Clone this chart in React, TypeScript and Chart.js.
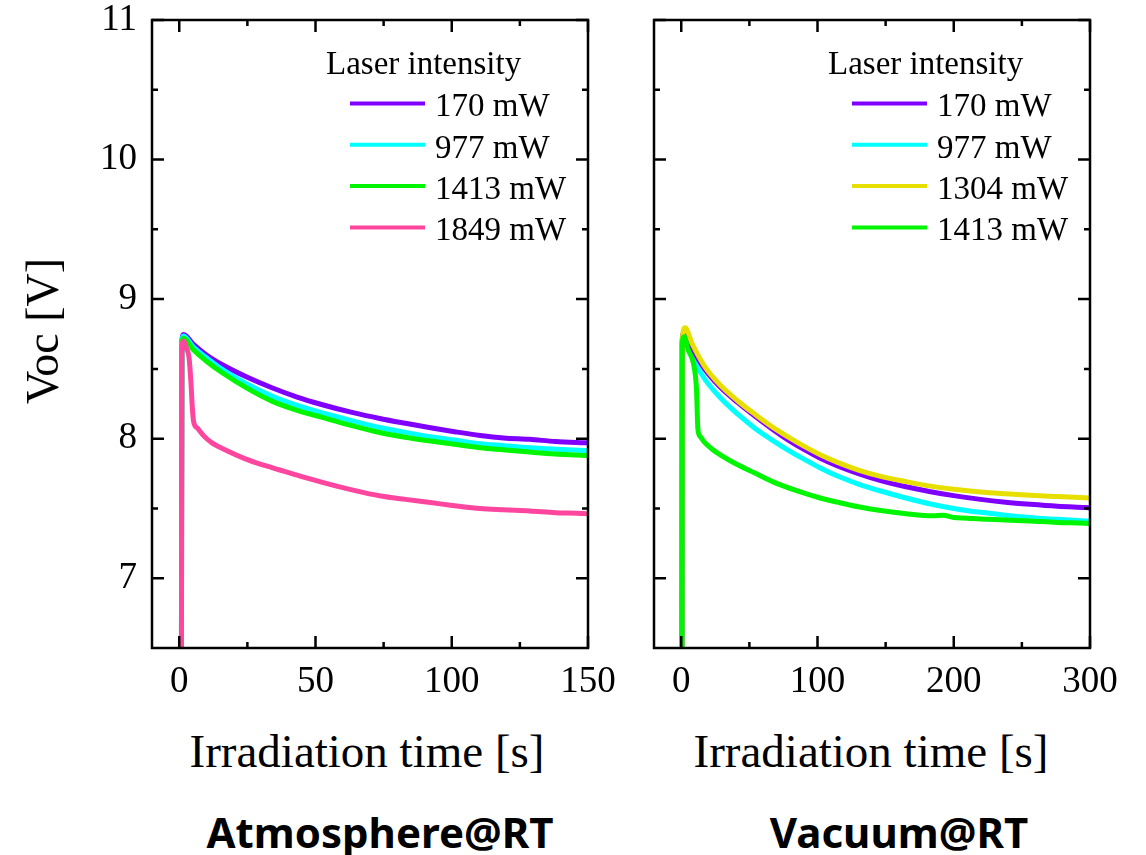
import React, { useEffect, useRef } from "react";
import { Chart, registerables } from "chart.js";

Chart.register(...registerables);

const SERIF = '"Liberation Serif", "Times New Roman", serif';

// ---------- tick values ----------
const yMajorTicks = [7, 8, 9, 10, 11];
const yMinorTicks = [7.5, 8.5, 9.5, 10.5];
const xMajorTicksLeft = [0, 50, 100, 150];
const xMinorTicksLeft = [25, 75, 125];
const xMajorTicksRight = [0, 100, 200, 300];
const xMinorTicksRight = [50, 150, 250];

// ---------- legend labels ----------
const legendTitle = "Laser intensity";
const labelsLeft = ["170 mW", "977 mW", "1413 mW", "1849 mW"];
const labelsRight = ["170 mW", "977 mW", "1304 mW", "1413 mW"];

const PURPLE = "#8000FF";
const CYAN = "#00FFFF";
const GREEN = "#00F500";
const PINK = "#FF469F";
const YELLOW = "#E6DF00";

// ---------- Atmosphere@RT data ----------
const tLeft = [0.8, 0.95, 1.6, 5, 10, 15.8, 25, 34, 43, 52.2, 63, 74, 83, 92.2, 101, 110.4, 119, 128.6, 138, 148.6, 150];
const vLeft170 = [6.3, 8.7, 8.746, 8.68, 8.6, 8.53, 8.44, 8.365, 8.3, 8.245, 8.19, 8.143, 8.11, 8.078, 8.05, 8.023, 8.005, 7.995, 7.98, 7.971, 7.97];
const vLeft977 = [6.3, 8.69, 8.735, 8.66, 8.58, 8.496, 8.39, 8.305, 8.24, 8.186, 8.13, 8.078, 8.045, 8.014, 7.99, 7.964, 7.95, 7.935, 7.925, 7.916, 7.915];
const vLeft1413 = [6.3, 8.68, 8.72, 8.64, 8.555, 8.472, 8.36, 8.269, 8.205, 8.154, 8.095, 8.042, 8.01, 7.983, 7.96, 7.935, 7.92, 7.904, 7.89, 7.88, 7.878];
const tLeft1849 = [0.8, 0.95, 1.6, 2.6, 3.6, 4.3, 4.8, 5.3, 6.7, 9, 12, 15.8, 25, 34, 43, 52.2, 63, 74, 83, 92.2, 101, 110.4, 119, 128.6, 138, 148.6, 150];
const vLeft1849 = [6.3, 8.62, 8.7, 8.65, 8.58, 8.4, 8.22, 8.12, 8.075, 8.02, 7.97, 7.93, 7.85, 7.792, 7.74, 7.689, 7.635, 7.589, 7.565, 7.542, 7.52, 7.499, 7.49, 7.482, 7.47, 7.463, 7.46];

// ---------- Vacuum@RT data ----------
const tRight = [0.5, 0.7, 1.5, 8, 17, 28, 41.5, 54, 65.9, 78, 90.3, 102, 114.7, 130, 146.4, 165, 183, 200, 219.6, 238, 256, 276, 296.5, 300];
const vRight170 = [6.3, 8.7, 8.75, 8.645, 8.5, 8.375, 8.258, 8.162, 8.075, 7.993, 7.921, 7.86, 7.805, 7.75, 7.7, 7.655, 7.62, 7.592, 7.565, 7.545, 7.53, 7.516, 7.506, 7.504];
const vRight977 = [6.3, 8.68, 8.72, 8.58, 8.43, 8.3, 8.175, 8.075, 7.995, 7.92, 7.852, 7.79, 7.732, 7.675, 7.625, 7.575, 7.532, 7.5, 7.472, 7.452, 7.436, 7.422, 7.41, 7.408];
const tRight1304 = [0.5, 0.7, 2.9, 8, 17, 28, 41.5, 54, 65.9, 78, 90.3, 102, 114.7, 130, 146.4, 165, 183, 200, 219.6, 238, 256, 276, 296.5, 300];
const vRight1304 = [6.3, 8.7, 8.794, 8.68, 8.52, 8.39, 8.27, 8.175, 8.09, 8.015, 7.945, 7.885, 7.83, 7.775, 7.73, 7.692, 7.66, 7.638, 7.618, 7.605, 7.594, 7.585, 7.577, 7.575];
const tRight1413 = [0.5, 0.7, 2.0, 5, 9.7, 11.2, 12.2, 14, 17, 22, 29.3, 40, 53.7, 70, 90.3, 102, 114.7, 130, 146.4, 165, 185, 192, 200, 210, 219.6, 238, 256, 276, 296.5, 300];
const vRight1413 = [6.3, 8.68, 8.73, 8.64, 8.5, 8.35, 8.07, 8.015, 7.975, 7.93, 7.88, 7.82, 7.755, 7.68, 7.61, 7.575, 7.545, 7.512, 7.485, 7.462, 7.447, 7.452, 7.435, 7.43, 7.424, 7.418, 7.41, 7.4, 7.394, 7.392];

const pts = (t: number[], v: number[]) => t.map((x, i) => ({ x, y: v[i] }));

const decorPlugin = {
  id: "decor",
  afterDatasetsDraw(chart: any, _args: any, opts: any) {
    const { ctx, chartArea: a, scales } = chart;
    const xs = scales.x;
    const ys = scales.y;
    ctx.save();
    ctx.strokeStyle = "#000";
    ctx.lineWidth = 2.5;
    ctx.lineCap = "butt";
    ctx.strokeRect(a.left, a.top, a.right - a.left, a.bottom - a.top);
    const major = 12;
    const minor = 6;
    const drawX = (vals: number[], len: number) => {
      vals.forEach((v) => {
        const p = xs.getPixelForValue(v);
        ctx.beginPath();
        ctx.moveTo(p, a.bottom);
        ctx.lineTo(p, a.bottom - len);
        ctx.moveTo(p, a.top);
        ctx.lineTo(p, a.top + len);
        ctx.stroke();
      });
    };
    const drawY = (vals: number[], len: number) => {
      vals.forEach((v) => {
        const p = ys.getPixelForValue(v);
        ctx.beginPath();
        ctx.moveTo(a.left, p);
        ctx.lineTo(a.left + len, p);
        ctx.moveTo(a.right, p);
        ctx.lineTo(a.right - len, p);
        ctx.stroke();
      });
    };
    drawX(opts.xMajor, major);
    drawX(opts.xMinor, minor);
    drawY(opts.yMajor, major);
    drawY(opts.yMinor, minor);

    // legend
    ctx.font = `33px ${SERIF}`;
    ctx.fillStyle = "#000";
    ctx.textBaseline = "alphabetic";
    ctx.textAlign = "left";
    ctx.fillText(opts.title, a.left + 174, 74);
    opts.items.forEach((it: any, i: number) => {
      const y = 103.5 + i * 41.3;
      ctx.strokeStyle = it.color;
      ctx.lineWidth = 4;
      ctx.beginPath();
      ctx.moveTo(a.left + 198, y);
      ctx.lineTo(a.left + 273, y);
      ctx.stroke();
      ctx.fillText(it.label, a.left + 283, y + 12.7);
    });
    ctx.restore();
  },
};

function makeChart(
  canvas: HTMLCanvasElement,
  datasets: any[],
  xMin: number,
  xMax: number,
  xMajor: number[],
  xMinor: number[],
  yAxisWidth: number,
  showY: boolean,
  padRight: number,
  labels: string[],
  colors: string[]
) {
  return new Chart(canvas, {
    type: "line",
    data: { datasets },
    plugins: [decorPlugin],
    options: {
      animation: false,
      responsive: false,
      maintainAspectRatio: false,
      layout: { padding: { top: 20, right: padRight, left: 0, bottom: 0 } },
      elements: { point: { radius: 0 } },
      plugins: {
        legend: { display: false },
        tooltip: { enabled: false },
        decor: {
          xMajor,
          xMinor,
          yMajor: yMajorTicks,
          yMinor: yMinorTicks,
          title: legendTitle,
          items: labels.map((l, i) => ({ label: l, color: colors[i] })),
        },
      } as any,
      scales: {
        x: {
          type: "linear",
          min: xMin,
          max: xMax,
          grid: { display: false, drawTicks: false },
          border: { display: false },
          afterBuildTicks: (s: any) => {
            s.ticks = xMajor.map((v) => ({ value: v }));
          },
          afterFit: (s: any) => {
            s.height = 72;
            s.paddingLeft = 0;
            s.paddingRight = 0;
            s.paddingTop = 0;
            s.paddingBottom = 0;
          },
          ticks: {
            color: "#000",
            font: { family: SERIF, size: 37 },
            padding: 12,
            maxRotation: 0,
            autoSkip: false,
          },
        },
        y: {
          type: "linear",
          min: 6.5,
          max: 11,
          grid: { display: false, drawTicks: false },
          border: { display: false },
          afterBuildTicks: (s: any) => {
            s.ticks = yMajorTicks.map((v) => ({ value: v }));
          },
          afterFit: (s: any) => {
            s.width = yAxisWidth;
            s.paddingLeft = 0;
            s.paddingRight = 0;
            s.paddingTop = 0;
            s.paddingBottom = 0;
          },
          ticks: {
            display: showY,
            color: "#000",
            font: { family: SERIF, size: 37 },
            padding: 15,
            autoSkip: false,
          },
        },
      },
    },
  });
}

const lineDs = (label: string, data: any[], color: string, order: number) => ({
  label,
  data,
  borderColor: color,
  backgroundColor: color,
  borderWidth: 5,
  pointRadius: 0,
  fill: false,
  cubicInterpolationMode: "monotone",
  order,
});

export default function App() {
  const leftRef = useRef<HTMLCanvasElement>(null);
  const rightRef = useRef<HTMLCanvasElement>(null);

  useEffect(() => {
    document.body.style.margin = "0";
    const left = makeChart(
      leftRef.current!,
      [
        lineDs(labelsLeft[0], pts(tLeft, vLeft170), PURPLE, 3),
        lineDs(labelsLeft[1], pts(tLeft, vLeft977), CYAN, 2),
        lineDs(labelsLeft[2], pts(tLeft, vLeft1413), GREEN, 1),
        lineDs(labelsLeft[3], pts(tLeft1849, vLeft1849), PINK, 0),
      ],
      -10,
      150,
      xMajorTicksLeft,
      xMinorTicksLeft,
      152,
      true,
      32,
      labelsLeft,
      [PURPLE, CYAN, GREEN, PINK]
    );
    const right = makeChart(
      rightRef.current!,
      [
        lineDs(labelsRight[0], pts(tRight, vRight170), PURPLE, 2),
        lineDs(labelsRight[1], pts(tRight, vRight977), CYAN, 3),
        lineDs(labelsRight[2], pts(tRight1304, vRight1304), YELLOW, 1),
        lineDs(labelsRight[3], pts(tRight1413, vRight1413), GREEN, 0),
      ],
      -20,
      300,
      xMajorTicksRight,
      xMinorTicksRight,
      34,
      false,
      56,
      labelsRight,
      [PURPLE, CYAN, YELLOW, GREEN]
    );
    return () => {
      left.destroy();
      right.destroy();
    };
  }, []);

  const serifText: React.CSSProperties = {
    position: "absolute",
    fontFamily: SERIF,
    color: "#000",
    lineHeight: 1,
    whiteSpace: "nowrap",
  };
  const boldText: React.CSSProperties = {
    position: "absolute",
    fontFamily: '"Noto Sans", "DejaVu Sans", sans-serif',
    fontWeight: 700,
    fontSize: 42,
    lineHeight: 1,
    color: "#000",
    whiteSpace: "nowrap",
    transform: "translateX(-50%)",
  };

  return (
    <div style={{ position: "relative", width: 1146, height: 855, background: "#fff", overflow: "hidden" }}>
      <canvas ref={leftRef} width={620} height={720} style={{ position: "absolute", left: 0, top: 0 }} />
      <canvas ref={rightRef} width={526} height={720} style={{ position: "absolute", left: 620, top: 0 }} />
      <div
        style={{
          ...serifText,
          fontSize: 46,
          left: 43,
          top: 331,
          transform: "translate(-50%, -50%) rotate(-90deg)",
        }}
      >
        Voc [V]
      </div>
      <div style={{ ...serifText, fontSize: 47, left: 367, top: 728, transform: "translateX(-50%)" }}>
        Irradiation time [s]
      </div>
      <div style={{ ...serifText, fontSize: 47, left: 871, top: 728, transform: "translateX(-50%)" }}>
        Irradiation time [s]
      </div>
      <div style={{ ...boldText, left: 380, top: 811 }}>Atmosphere@RT</div>
      <div style={{ ...boldText, left: 899, top: 811 }}>Vacuum@RT</div>
    </div>
  );
}
